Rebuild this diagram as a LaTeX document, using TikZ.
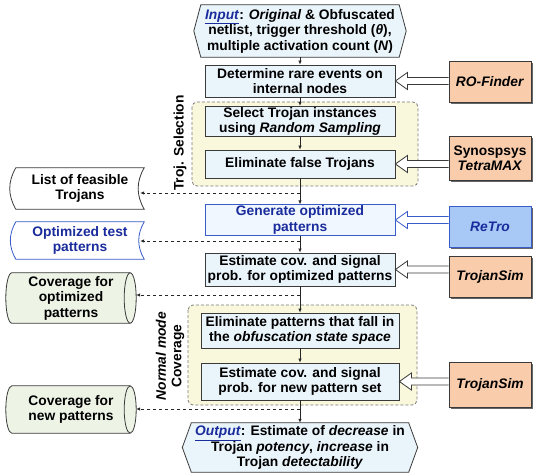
\documentclass[tikz,border=0pt]{standalone}
\usepackage{fontspec}
\setmainfont{Liberation Sans}
\usetikzlibrary{calc,arrows.meta,shadows,backgrounds}
\definecolor{procfill}{HTML}{EAF4FB}
\definecolor{procdraw}{HTML}{3A3A3A}
\definecolor{genfill}{HTML}{F0F7FF}
\definecolor{bluedraw}{HTML}{3A5CC8}
\definecolor{bluetext}{HTML}{1A2C9C}
\definecolor{regfill}{HTML}{FAF8DC}
\definecolor{regdraw}{HTML}{7A7A7A}
\definecolor{toolfill}{HTML}{F9CDAC}
\definecolor{retrofill}{HTML}{A8C8F5}
\definecolor{cylfill}{HTML}{EDF4E6}
\newcommand{\HollowArr}[3]{%
  \draw[draw=#3, fill=white, line width=0.8pt, line join=miter]
  let \p1=(#1.west), \p2=(#2.east) in
  (\x1,{\y2+3.5pt}) -- ({\x2+12pt},{\y2+3.5pt}) -- ({\x2+12pt},{\y2+8.5pt}) -- (\x2,\y2)
  -- ({\x2+12pt},{\y2-8.5pt}) -- ({\x2+12pt},{\y2-3.5pt}) -- (\x1,{\y2-3.5pt});}
\begin{document}
\begin{tikzpicture}[x=1pt,y=-1pt,
  every node/.style={font=\fontsize{13.8}{15.5}\selectfont\bfseries, inner sep=1pt},
  proc/.style={draw=procdraw, fill=procfill, line width=0.8pt, align=center, minimum width=190pt},
  genbox/.style={proc, draw=bluedraw, fill=genfill, text=bluetext},
  tool/.style={draw=procdraw, fill=toolfill, line width=0.8pt, align=center, minimum width=82pt,
    drop shadow={shadow xshift=1.6pt, shadow yshift=-1.6pt, fill=black!75, opacity=0.8}},
  retrobox/.style={tool, draw=bluedraw, fill=retrofill, text=bluetext},
  region/.style={draw=regdraw, dash pattern=on 3pt off 2pt, fill=regfill, rounded corners=5pt, line width=0.8pt},
  textbox/.style={align=center},
  iodraw/.style={draw=procdraw, fill=procfill, line width=0.8pt},
  stdraw/.style={draw=procdraw, fill=white, line width=0.8pt},
  cyldraw/.style={draw=procdraw, fill=cylfill, line width=0.8pt},
  flow/.style={-{Latex[length=4pt,width=3.5pt]}, draw=black!85, line width=0.7pt},
  dflow/.style={flow, dash pattern=on 3.5pt off 2.5pt},
  lab/.style={rotate=90, align=center}
]
\useasboundingbox (0,0) rectangle (535,476);
% regions
\draw[region] (192,102) rectangle (418,186);
\draw[region] (188,305) rectangle (417,405);
\node[lab] (lab1) at (180,143) {Troj. Selection};
\node[lab] (lab2) at (170,356) {\textit{Normal mode}\\Coverage};
% main column
\node[textbox, minimum width=198pt, minimum height=52pt] (in) at (300,31)
  {\textcolor{bluetext}{\underline{\textit{Input}}}: \textit{Original} \& Obfuscated\\netlist, trigger threshold (\textit{θ}),\\multiple activation count (\textit{N})};
\node[proc, minimum height=32pt] (det) at (300,81) {Determine rare events on\\internal nodes};
\node[proc, minimum height=27pt] (sel) at (300,121.5) {Select Trojan instances\\using \textit{Random Sampling}};
\node[proc, minimum height=28pt] (elim) at (300,164) {Eliminate false Trojans};
\node[genbox, minimum height=30pt] (gen) at (300,220) {Generate optimized\\patterns};
\node[proc, minimum height=33pt] (est1) at (300,269.5) {Estimate cov. and signal\\prob. for optimized patterns};
\node[proc, minimum width=198pt, minimum height=35pt] (elp) at (300,330.5) {Eliminate patterns that fall in\\the \textit{obfuscation state space}};
\node[proc, minimum width=198pt, minimum height=37pt] (est2) at (300,381.5) {Estimate cov. and signal\\prob. for new pattern set};
\node[textbox, minimum width=217pt, minimum height=49pt] (out) at (300,447.5)
  {\textcolor{bluetext}{\underline{\textit{Output}}}: Estimate of \textit{decrease} in\\Trojan \textit{potency}, \textit{increase} in\\Trojan \textit{detectability}};
% tools
\node[tool, minimum height=41pt] (rof) at (490,81.5) {\textit{RO-Finder}};
\node[tool, minimum height=44pt] (tmax) at (490,158) {Synospsys\\\textit{TetraMAX}};
\node[retrobox, minimum height=41pt] (retro) at (490,226.5) {\textit{ReTro}};
\node[tool, minimum height=41pt] (tsim1) at (490,276.5) {\textit{TrojanSim}};
\node[tool, minimum height=45pt] (tsim2) at (490,384.5) {\textit{TrojanSim}};
% outputs on the left
\node[textbox, minimum width=128pt, minimum height=41pt] (list) at (80,188.5) {List of feasible\\Trojans};
\node[textbox, minimum width=128pt, minimum height=37pt, text=bluetext] (opt) at (80,240.5) {Optimized test\\patterns};
\node[textbox, minimum width=118pt, minimum height=50pt] (cov1) at (71,298) {Coverage for\\optimized\\patterns};
\node[textbox, minimum width=118pt, minimum height=47pt] (cov2) at (71,409.5) {Coverage for\\new patterns};
\begin{scope}[on background layer]
  \draw[iodraw] (in.north west) -- (in.north east) -- ([xshift=7pt]in.east) -- (in.south east)
    -- (in.south west) -- ([xshift=-7pt]in.west) -- cycle;
  \draw[iodraw] (out.north west) -- (out.north east) -- ([xshift=9pt]out.east) -- (out.south east)
    -- (out.south west) -- ([xshift=-9pt]out.west) -- cycle;
  \draw[stdraw] (list.north west) -- (list.north east) to[bend right=30] (list.south east)
    -- (list.south west) to[bend left=30] (list.north west) -- cycle;
  \draw[stdraw, draw=bluedraw] (opt.north west) -- (opt.north east) to[bend right=30] (opt.south east)
    -- (opt.south west) to[bend left=30] (opt.north west) -- cycle;
  \foreach \c in {cov1,cov2}{
    \draw[cyldraw] (\c.north west) let \p1=(\c.north), \p2=(\c.south) in
      arc[start angle=90, end angle=270, x radius=6pt, y radius={(\y1-\y2)/2}]
      -- (\c.south east)
      arc[start angle=-90, end angle=90, x radius=6pt, y radius={(\y1-\y2)/2}] -- cycle;
    \draw[cyldraw, fill=none] (\c.north east) let \p1=(\c.north), \p2=(\c.south) in
      arc[start angle=90, end angle=270, x radius=6pt, y radius={(\y1-\y2)/2}];
  }
\end{scope}
% flow
\foreach \a/\b in {in/det, det/sel, sel/elim, elim/gen, gen/est1, est1/elp, elp/est2, est2/out}
  \draw[flow] (\a.south) -- (\b.north);
\coordinate (j1) at (300,193);
\coordinate (j2) at (300,241);
\coordinate (j3) at (300,295);
\coordinate (j4) at (300,409);
\draw[dflow] (j1) -- ([xshift=-4pt]j1 -| list.east);
\draw[dflow] (j2) -- ([xshift=-4pt]j2 -| opt.east);
\draw[dflow] (j3) -- ([xshift=6pt]j3 -| cov1.east);
\draw[dflow] (j4) -- ([xshift=6pt]j4 -| cov2.east);
% tool arrows
\HollowArr{rof}{det}{procdraw}
\HollowArr{tmax}{elim}{procdraw}
\HollowArr{retro}{gen}{bluedraw}
\HollowArr{tsim1}{est1}{procdraw}
\HollowArr{tsim2}{est2}{procdraw}
\end{tikzpicture}
\end{document}
